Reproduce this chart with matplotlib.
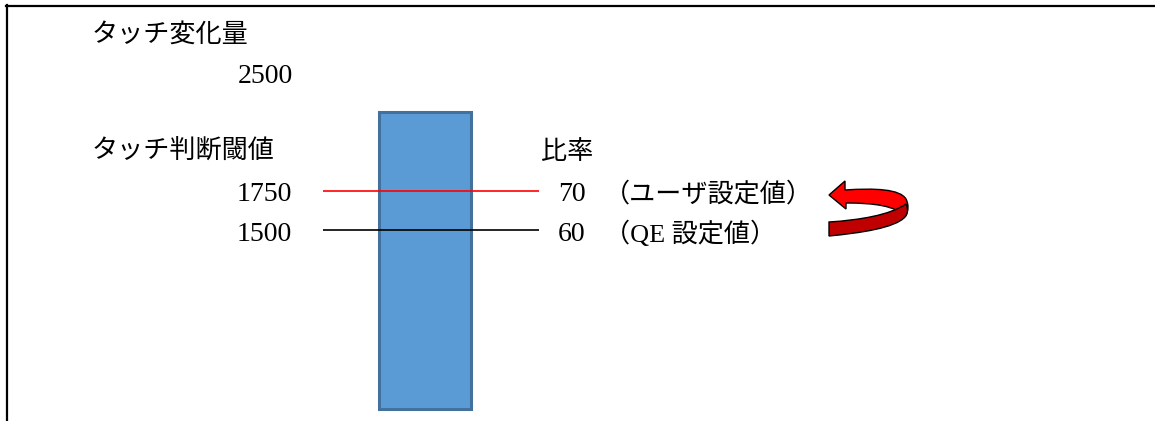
import matplotlib
matplotlib.use("Agg")
import matplotlib.pyplot as plt
import matplotlib.transforms as mtransforms
from matplotlib.path import Path
from matplotlib.patches import PathPatch

plt.rcParams['font.family'] = ['Liberation Serif', 'Noto Sans CJK JP', 'DejaVu Sans']

# --- data ---
change_value = 2500          # タッチ変化量
threshold_values = [1750, 1500]   # タッチ判断閾値
ratio_values = [70, 60]           # 比率
ratio_notes = ['（ユーザ設定値）', '（QE 設定値）']
line_colors = ['#FF0000', '#000000']
bar_bottom = 370             # schematic bar extent
bar_top = 2250

W, H = 1155, 421
fig = plt.figure(figsize=(W / 100, H / 100), dpi=100)
ax = fig.add_axes([0, 0, 1, 1])
ax.set_xlim(0, W)
ax.set_ylim(291, 2956)
ax.axis('off')

# pixel helper transform (x right, y down)
px = mtransforms.Affine2D().scale(1 / W, -1 / H).translate(0, 1) + fig.transFigure
# labels sit a little below their line
lbl = mtransforms.offset_copy(ax.transData, fig=fig, y=-4, units='dots')

# frame (top and left edges only)
ax.plot([6, W], [5.5, 5.5], color='black', lw=1.6, transform=px, clip_on=False)
ax.plot([7, 7], [5, H], color='black', lw=1.6, transform=px, clip_on=False)

# bar
ax.bar(425, bar_top - bar_bottom, bottom=bar_bottom, width=92,
       color='#5B9BD5', edgecolor='#41719C', linewidth=2.2)

# threshold lines
ax.hlines(threshold_values, 323, 539, colors=line_colors, linewidth=1.2)

fs = 18.8
# headings
ax.text(92, 35, 'タッチ変化量', transform=px, fontsize=fs, va='center', ha='left')
ax.text(92, 151, 'タッチ判断閾値', transform=px, fontsize=fs, va='center', ha='left')
ax.text(541, 152, '比率', transform=px, fontsize=fs, va='center', ha='left')

# value labels
ax.text(293, change_value, str(change_value), fontsize=20, va='center', ha='right',
        transform=lbl)
for v, r, note in zip(threshold_values, ratio_values, ratio_notes):
    ax.text(292, v, str(v), fontsize=20, va='center', ha='right', transform=lbl)
    ax.text(558, v, str(r), fontsize=20, va='center', ha='left', transform=lbl)
    ax.text(604, v, note, fontsize=fs, va='center', ha='left', transform=lbl)

# curved red arrow (decoration)
upper = Path(
    [(829, 195), (845, 181), (845, 190),
     (875, 188), (900, 189), (906, 199),
     (910, 207), (907, 214), (905, 216),
     (895, 206), (875, 203), (846, 203),
     (846, 209), (829, 195)],
    [Path.MOVETO, Path.LINETO, Path.LINETO,
     Path.CURVE4, Path.CURVE4, Path.CURVE4,
     Path.CURVE4, Path.CURVE4, Path.CURVE4,
     Path.CURVE4, Path.CURVE4, Path.CURVE4,
     Path.LINETO, Path.CLOSEPOLY])
lower = Path(
    [(829, 222),
     (860, 220), (890, 215), (906, 204),
     (909, 210), (907, 215), (905, 217),
     (895, 228), (860, 233), (829, 236),
     (829, 222)],
    [Path.MOVETO,
     Path.CURVE4, Path.CURVE4, Path.CURVE4,
     Path.CURVE4, Path.CURVE4, Path.CURVE4,
     Path.CURVE4, Path.CURVE4, Path.CURVE4,
     Path.CLOSEPOLY])
ax.add_patch(PathPatch(upper, facecolor='#FF0000', edgecolor='black', lw=1.0, transform=px))
ax.add_patch(PathPatch(lower, facecolor='#C00000', edgecolor='black', lw=1.0, transform=px))

fig.savefig('out.png', dpi=100, facecolor='white')
